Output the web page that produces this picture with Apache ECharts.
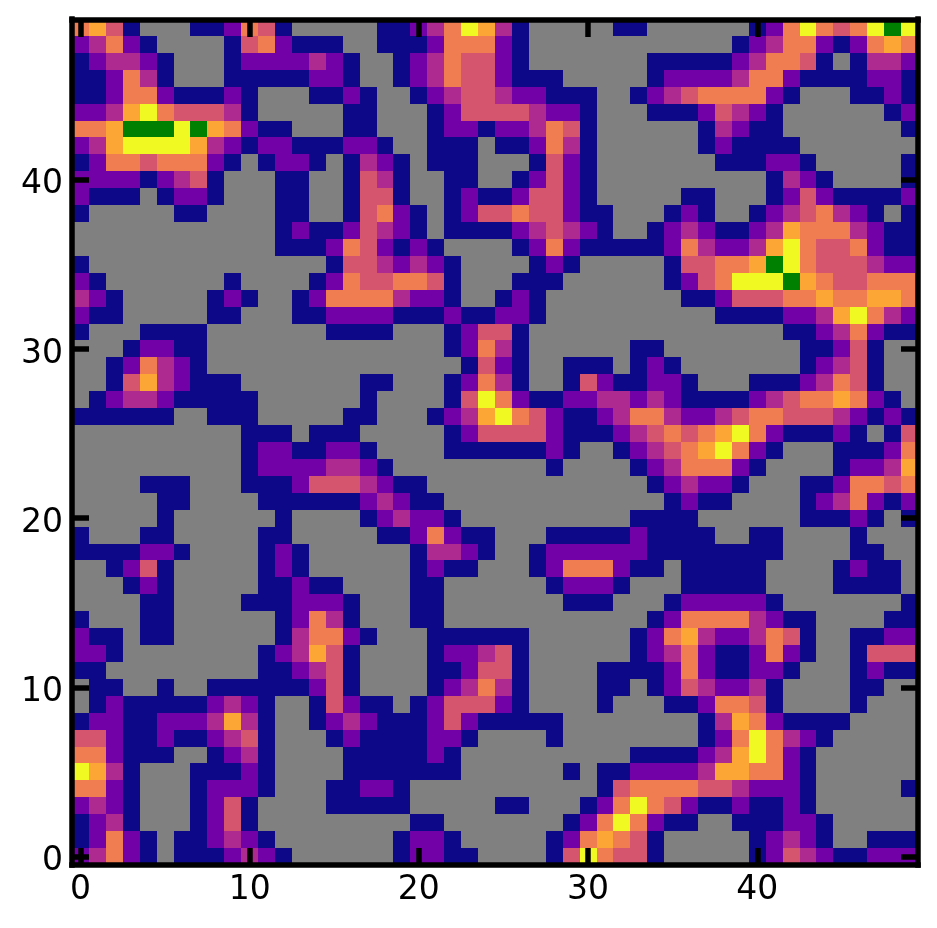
<!DOCTYPE html>
<html>
<head>
<meta charset="utf-8">
<style>html,body{margin:0;padding:0;background:#fff}#c{width:937px;height:928px}</style>
<script src="https://cdn.jsdelivr.net/npm/echarts@6/dist/echarts.min.js"></script>
</head>
<body>
<div id="c"></div>
<script>
const cols = Array.from({length: 50}, (_, i) => String(i));
const rowLabels = Array.from({length: 50}, (_, i) => String(i));
const tickStep = 10;
// colour band of every cell, top row (y = 49) first
const levelRows = [
"56410001125410000 01123576310000011 0000001257545787",
"23521000014521110 01112555210000000 0000012355212565",
"12332100012222321 00123544210000000 1111123554101332",
"11253100011111221 00123544211100000 1222235521111221",
"11255211121000112 10012344322111001 2345555210001121",
"22367544431000001 10001244443221000 1112432100000012",
"55688878652110001 10001221223541000 0001321100000001",
"23677776321221112 21001110112531000 0001211110000000",
"12554555210122101 32101110001421000 0000111221000001",
"22221234100011001 43100110012421000 0000000132100001",
"21110122100011001 44100121124421000 0011000124211112",
"10000011000011001 45210124454421100 0121001234532101",
"00000000000012112 43210111123432100 1232112365553211",
"00000000000011125 42121000012521111 1253223675445211",
"10000000000000014 43232100001210000 0144556875444322",
"21000000010000125 44554100011100000 0124577786544555",
"32100000121001255 55322100121000000 0011244455655665",
"21100000110001122 22111211221000000 0000111122367532",
"10001111000000011 11000124410000000 0000000011235211",
"00012211000000000 00000125310000001 1000000001124100",
"00125321000000000 00000014210011101 2100000001234100",
"00146321110000000 11000125310014211 2210001112354100",
"01233211111000000 10000147521122332 3211112345565210",
"11111100111000001 10001236754211235 5322345544432121",
"00000000001110111 00000124444211123 4545675211121014",
"00000000001221122 10000111111210012 3456752100011125",
"00000000001222233 21000000000100001 2355521000012236",
"00001110001112444 32110000000000000 1232210001125545",
"00000110000111111 23211000000000000 0121100001235212",
"00000100000010000 12322100000000001 1110000001112101",
"10001100000110000 01125211000111112 1111001100001000",
"11112210000121000 00013321001222222 1111111100001100",
"00124100000121000 00012110001255521 1011111000012110",
"00012100000112110 00011000000122210 0011111000011110",
"00001100001112221 00011000000011100 0122222100000001",
"10001100000012531 00011000000000000 1255553211000011",
"21101100000013552 10001111110000001 2563223541001122",
"22100000000123641 00001223410000001 2352112521001444",
"11000000000112341 00001124410000111 1252112210001211",
"01100100111111241 00001235310000110 1243223100001100",
"01211111232100142 11012444210000100 0112554100001000",
"12211222363100123 21112421111100000 0001365211110000",
"44211211234100012 11112210000100000 0001257532100000",
"55211100123100001 11112100000000001 1112367521000000",
"76310001112100001 11111100000010112 2223665521000000",
"55210001222100011 22100000000000145 5554432221000001",
"23210001241000011 11100000110001257 5421121121000000",
"12310001241000000 00011000000012575 2110011122100000",
"12521011232100000 00122100000125654 1000001232100111",
"23521011123210000 00122110000147544 1000001243211222"
];
const levelColors = ["#808080","#0d0887","#7201a8","#ae2a90","#d5546e","#f07c52","#fca636","#f0f921","#008000"];
const lineColor = "#000";

const cells = [];
levelRows.forEach((row, r) => {
  const digits = row.replace(/ /g, "");
  for (let c = 0; c < digits.length; c++) cells.push([c, 49 - r, Number(digits[c])]);
});

const showTick = i => i % tickStep === 0;
function axis(kind, position, data, labelled, offset) {
  const label = {
    show: true, interval: showTick, color: "#000", fontFamily: "DejaVu Sans", fontSize: 33, margin: 9
  };
  if (kind === "y") { label.verticalAlign = "top"; label.lineHeight = 10; }
  return {
    type: "category", data, position, z: 10, offset,
    boundaryGap: true,
    axisLine: {show: true, onZero: false, lineStyle: {color: lineColor, width: 5.5, cap: "square"}},
    axisTick: {show: true, inside: true, alignWithLabel: true, interval: showTick, length: 17, lineStyle: {color: lineColor, width: 5.5}},
    axisLabel: labelled ? label : {show: false},
    splitLine: {show: false}, splitArea: {show: false}
  };
}

// Cells snap to whole pixels so neighbouring cells share crisp edges.
function renderCell(params, api) {
  const centre = api.coord([api.value(0), api.value(1)]);
  const size = api.size([1, 1]);
  const left = Math.round(centre[0] - size[0] / 2);
  const right = Math.round(centre[0] + size[0] / 2);
  const top = Math.round(centre[1] - size[1] / 2);
  const bottom = Math.round(centre[1] + size[1] / 2);
  return {
    type: "rect",
    shape: {x: left, y: top, width: right - left, height: bottom - top},
    style: {fill: levelColors[api.value(2)], stroke: null}
  };
}

const chart = echarts.init(document.getElementById("c"), null, {renderer: "canvas"});
chart.setOption({
  animation: false,
  backgroundColor: "#fff",
  grid: {left: 72, top: 19, width: 846, height: 846, containLabel: false},
  xAxis: [axis("x", "bottom", cols, true, 0), axis("x", "top", cols, false, -1)],
  yAxis: [axis("y", "left", rowLabels, true, 0), axis("y", "right", rowLabels, false, 0)],
  series: [{
    type: "custom", xAxisIndex: 0, yAxisIndex: 0, data: cells,
    renderItem: renderCell, encode: {x: 0, y: 1}, progressive: 0, silent: true
  }]
});
</script>
</body>
</html>
